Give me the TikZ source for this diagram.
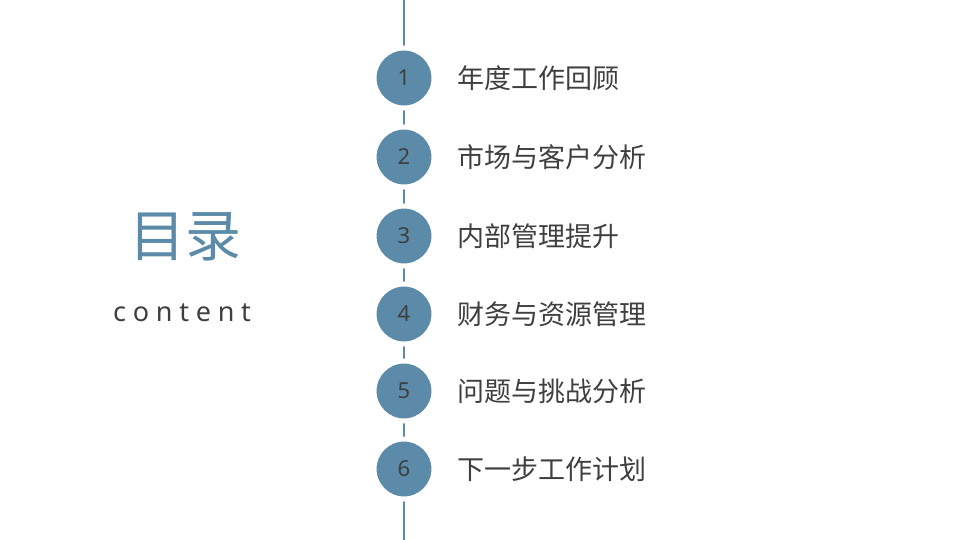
\documentclass[tikz,border=0pt]{standalone}
\usepackage{fontspec}
\setmainfont{Noto Sans}
\newfontfamily\cjk{Noto Sans CJK SC}
\newfontfamily\spaced[LetterSpace=25]{Noto Sans}
\definecolor{accent}{HTML}{5B8BA8}
\definecolor{txt}{HTML}{3F3F3F}
\begin{document}
\begin{tikzpicture}[x=1pt,y=-1pt,
  num/.style={circle,fill=accent,draw=white,line width=5pt,minimum size=60pt,inner sep=0pt,text=txt,font=\fontsize{22}{24}\selectfont},
  item/.style={anchor=west,text=txt,font=\cjk\fontsize{27}{30}\selectfont,inner sep=0pt}]
\useasboundingbox (0,0) rectangle (960,540);
\coordinate (top) at (404,0);
\coordinate (bot) at (404,540);
\draw[accent,line width=1.5pt] (top) -- (bot);
\foreach \i/\y/\t in {1/78/年度工作回顾,2/157/市场与客户分析,3/236/内部管理提升,4/314/财务与资源管理,5/391/问题与挑战分析,6/469/下一步工作计划}{
  \node[num] (c\i) at (404,\y) {\i};
  \node[item] (t\i) at (457,\y) {\t};
}
\node[text=accent,font=\cjk\fontsize{56}{60}\selectfont] (title) at (185,237) {目录};
\node[text=txt,font=\spaced\fontsize{27}{30}\selectfont] (sub) at (182,313) {content};
\end{tikzpicture}
\end{document}
